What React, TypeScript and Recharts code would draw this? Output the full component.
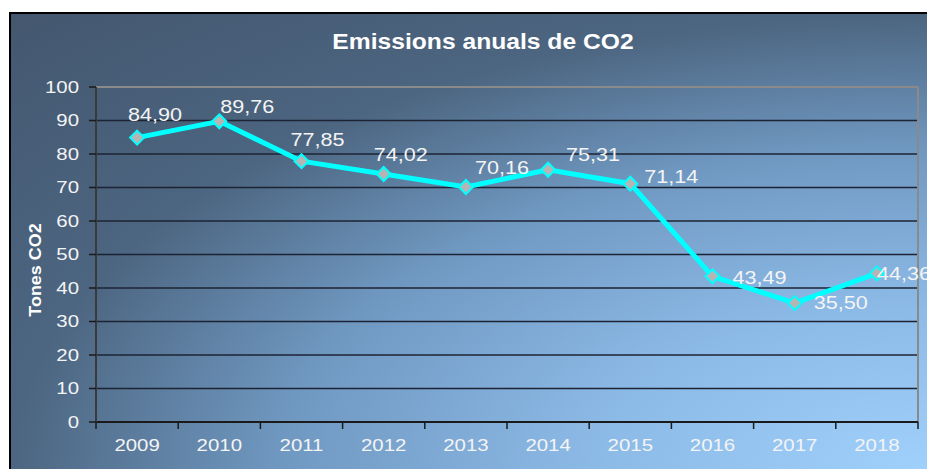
import { LineChart, Line, XAxis, YAxis, CartesianGrid, ReferenceLine, LabelList } from "recharts"

const years = ["2009", "2010", "2011", "2012", "2013", "2014", "2015", "2016", "2017", "2018"]
const emissions = [84.9, 89.76, 77.85, 74.02, 70.16, 75.31, 71.14, 43.49, 35.5, 44.36]
const yTicks = [0, 10, 20, 30, 40, 50, 60, 70, 80, 90, 100]

const W = 927
const H = 469
const margin = { top: 87, right: 9, left: 36, bottom: 7 }
const Y_AXIS_W = 60
const X_AXIS_H = 40
const plotW = W - margin.left - Y_AXIS_W - margin.right
const band = plotW / years.length
const FONT = "'Liberation Sans', Arial, sans-serif"
const STRETCH = 1.2 // the original text is a bit wider than Arial

// x is the band index + 0.5 so points sit in the middle of each year
const data = years.map((year, i) => ({ pos: i + 0.5, year, value: emissions[i] }))
const xMarks = years.map((_, i) => i).concat(years.length)

// where each value label sits relative to its point (px)
const labelShift: [number, number][] = [
  [18, -23], [28, -15], [16, -22], [17, -19], [36, -19],
  [45, -15], [41, -7], [47, 1], [46, 0], [27, 0],
]

const fmt = (v: number) => v.toFixed(2).replace(".", ",")

function Diamond(props: any) {
  const { cx, cy } = props
  if (cx == null || cy == null) return null
  const r = 7
  return (
    <path
      d={`M${cx},${cy - r} L${cx + r},${cy} L${cx},${cy + r} L${cx - r},${cy} Z`}
      fill="#b5b5b5"
      stroke="#00ffff"
      strokeWidth={2}
    />
  )
}

function WideText({ x, y, anchor, size, children }: any) {
  return (
    <text
      transform={`translate(${x},${y}) scale(${STRETCH},1)`}
      textAnchor={anchor}
      dominantBaseline="central"
      fill="#f4f4f4"
      fontSize={size}
      fontFamily={FONT}
    >
      {children}
    </text>
  )
}

function ValueLabel(props: any) {
  const { x, y, value, index } = props
  const [dx, dy] = labelShift[index] ?? [0, -15]
  return (
    <WideText x={x + dx} y={y + dy} anchor="middle" size={18}>
      {fmt(value)}
    </WideText>
  )
}

function YearTick(props: any) {
  const { x, y, payload } = props
  const i = payload.value
  if (i >= years.length) return null
  return (
    <WideText x={x + band / 2} y={y + 14} anchor="middle" size={17}>
      {years[i]}
    </WideText>
  )
}

function ValueTick(props: any) {
  const { x, y, payload } = props
  return (
    <WideText x={x} y={y} anchor="end" size={17}>
      {payload.value}
    </WideText>
  )
}

export default function App() {
  return (
    <div style={{ position: "absolute", left: 0, top: 0, width: W, height: H, overflow: "hidden", background: "#fff" }}>
      <div
        style={{
          position: "absolute",
          left: 9,
          top: 12,
          width: 940,
          height: 480,
          border: "2px solid #000",
          boxSizing: "border-box",
          background:
            "radial-gradient(ellipse 918px 457px at 918px 457px, #a0d0fc 0%, #8dbbe8 35%, #7099c2 70%, #4c6580 100%, #44576f 141%)",
        }}
      />
      <div
        style={{
          position: "absolute",
          left: 483,
          top: 42,
          transform: "translate(-50%, -50%) scale(1.12, 1)",
          whiteSpace: "nowrap",
          color: "#fff",
          fontFamily: FONT,
          fontWeight: "bold",
          fontSize: 22,
        }}
      >
        Emissions anuals de CO2
      </div>
      <div
        style={{
          position: "absolute",
          left: 36,
          top: 270,
          transform: "translate(-50%, -50%) rotate(-90deg) scale(1.12, 1)",
          whiteSpace: "nowrap",
          color: "#fff",
          fontFamily: FONT,
          fontWeight: "bold",
          fontSize: 16,
        }}
      >
        Tones CO2
      </div>
      <div style={{ position: "absolute", left: 0, top: 0 }}>
        <LineChart width={W} height={H} data={data} margin={margin}>
          <CartesianGrid vertical={false} stroke="#1c2333" strokeWidth={1.5} />
          <ReferenceLine y={100} stroke="#8a8a8a" strokeWidth={2} />
          <ReferenceLine x={years.length} stroke="#8a8a8a" strokeWidth={2} />
          <XAxis
            dataKey="pos"
            type="number"
            domain={[0, years.length]}
            ticks={xMarks}
            interval={0}
            height={X_AXIS_H}
            tickSize={7}
            tickMargin={2}
            tick={<YearTick />}
            axisLine={{ stroke: "#1a1a1a", strokeWidth: 2 }}
            tickLine={{ stroke: "#1a1a1a", strokeWidth: 1.5 }}
          />
          <YAxis
            domain={[0, 100]}
            ticks={yTicks}
            interval={0}
            width={Y_AXIS_W}
            tickSize={7}
            tickMargin={10}
            tick={<ValueTick />}
            axisLine={{ stroke: "#3a3a3a", strokeWidth: 2 }}
            tickLine={{ stroke: "#1a1a1a", strokeWidth: 1.5 }}
          />
          <Line
            dataKey="value"
            stroke="#00ffff"
            strokeWidth={5}
            dot={<Diamond />}
            activeDot={false}
            isAnimationActive={false}
          >
            <LabelList dataKey="value" content={<ValueLabel />} />
          </Line>
        </LineChart>
      </div>
    </div>
  )
}
